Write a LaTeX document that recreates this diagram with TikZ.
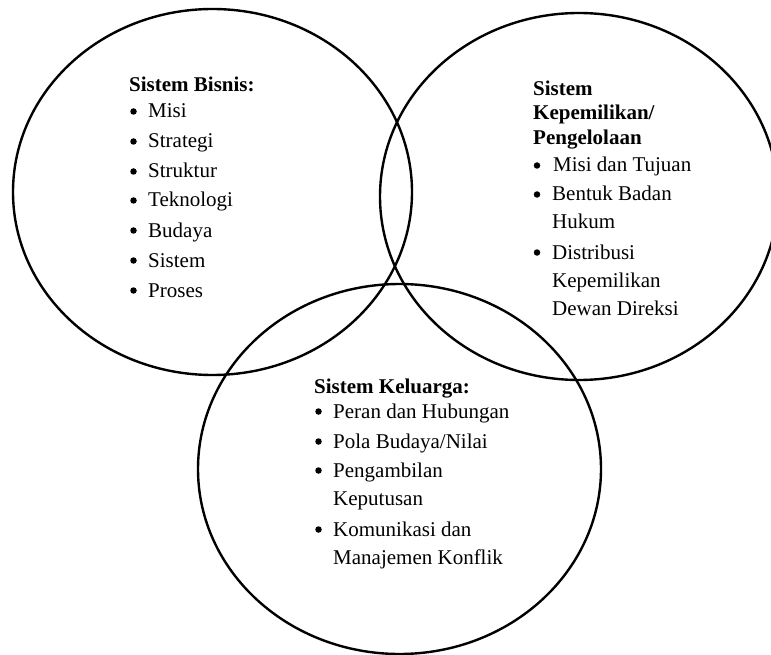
\documentclass[tikz,border=0pt]{standalone}
\usepackage{fontspec}
\setmainfont{Liberation Serif}
\begin{document}
\begin{tikzpicture}[x=1pt,y=-1pt,
  ring/.style={draw=black,line width=2.4pt},
  head/.style={anchor=base west,inner sep=0pt,font=\fontsize{21}{25}\selectfont\bfseries},
  item/.style={anchor=base west,inner sep=0pt,font=\fontsize{21}{25}\selectfont},
  dot/.style={fill=black,circle,inner sep=0pt,minimum size=6.5pt}]
\useasboundingbox (0,0) rectangle (771,655);
% circles
\draw[ring] (212.5,192) ellipse [x radius=199.5, y radius=183];
\draw[ring] (579,196.5) ellipse [x radius=199, y radius=183.5];
\draw[ring] (399.5,469) ellipse [x radius=201.5, y radius=185];
% Sistem Bisnis
\node[head] (h1) at (129,92) {Sistem Bisnis:};
\node[item] (a1) at (148,118) {Misi};
\node[item] (a2) at (148,148) {Strategi};
\node[item] (a3) at (148,178) {Struktur};
\node[item] (a4) at (148,207) {Teknologi};
\node[item] (a5) at (148,237) {Budaya};
\node[item] (a6) at (148,267) {Sistem};
\node[item] (a7) at (148,297) {Proses};
\node[dot] (ba1) at (133.5,111.5) {};
\node[dot] (ba2) at (133.5,141.5) {};
\node[dot] (ba3) at (133.5,171.5) {};
\node[dot] (ba4) at (133.5,200.5) {};
\node[dot] (ba5) at (133.5,230.5) {};
\node[dot] (ba6) at (133.5,260.5) {};
\node[dot] (ba7) at (133.5,290.5) {};
% Sistem Kepemilikan
\node[head] (h2a) at (533,96) {Sistem};
\node[head] (h2b) at (533,120) {Kepemilikan/};
\node[head] (h2c) at (533,145) {Pengelolaan};
\node[item] (c1) at (553,172) {Misi dan Tujuan};
\node[item] (c2) at (552,201) {Bentuk Badan};
\node[item] (c2b) at (552,229) {Hukum};
\node[item] (c3) at (552,259) {Distribusi};
\node[item] (c3b) at (552,287) {Kepemilikan};
\node[item] (c3c) at (552,315) {Dewan Direksi};
\node[dot] (bc1) at (537,165.5) {};
\node[dot] (bc2) at (537,194.5) {};
\node[dot] (bc3) at (537,252.5) {};
% Sistem Keluarga
\node[head] (h3) at (314,393) {Sistem Keluarga:};
\node[item] (k1) at (333,418) {Peran dan Hubungan};
\node[item] (k2) at (333,448) {Pola Budaya/Nilai};
\node[item] (k3) at (333,477) {Pengambilan};
\node[item] (k3b) at (333,505) {Keputusan};
\node[item] (k4) at (333,536) {Komunikasi dan};
\node[item] (k4b) at (333,564) {Manajemen Konflik};
\node[dot] (bk1) at (318.5,411.5) {};
\node[dot] (bk2) at (318.5,441.5) {};
\node[dot] (bk3) at (318.5,470.5) {};
\node[dot] (bk4) at (318.5,529.5) {};
\end{tikzpicture}
\end{document}
